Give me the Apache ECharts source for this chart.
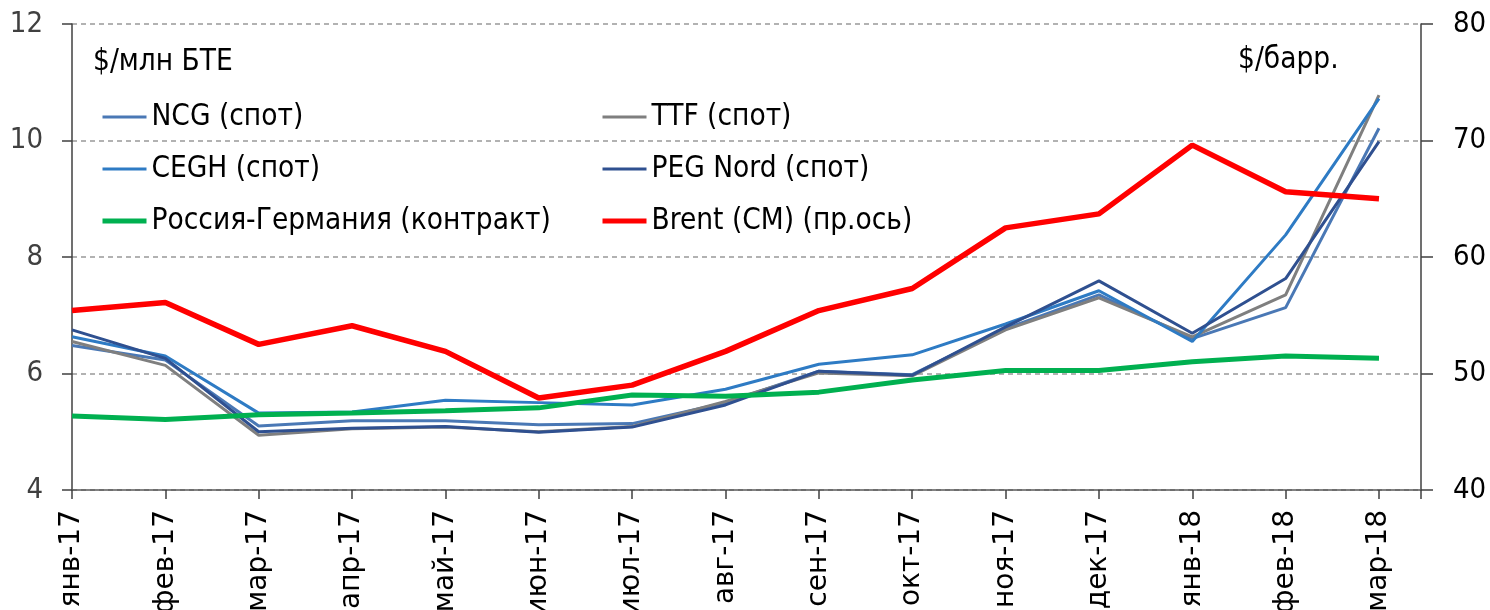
<!DOCTYPE html>
<html>
<head>
<meta charset="utf-8">
<script src="https://cdn.jsdelivr.net/npm/echarts@6/dist/echarts.min.js"></script>
<style>
  html, body { margin: 0; padding: 0; background: #fff; }
  #chart { width: 1490px; height: 610px; }
</style>
</head>
<body>
<div id="chart"></div>
<script>
  var months = ['янв-17', 'фев-17', 'мар-17', 'апр-17', 'май-17', 'июн-17', 'июл-17', 'авг-17',
    'сен-17', 'окт-17', 'ноя-17', 'дек-17', 'янв-18', 'фев-18', 'мар-18'];

  // $/млн БТЕ
  var ncg = [6.48, 6.23, 5.10, 5.19, 5.19, 5.12, 5.14, 5.50, 6.04, 5.98, 6.77, 7.35, 6.60, 7.13, 10.21];
  var ttf = [6.55, 6.14, 4.94, 5.05, 5.08, 5.00, 5.09, 5.52, 6.01, 5.96, 6.75, 7.30, 6.63, 7.35, 10.78];
  var cegh = [6.63, 6.30, 5.32, 5.34, 5.54, 5.50, 5.46, 5.73, 6.16, 6.32, 6.85, 7.42, 6.55, 8.38, 10.72];
  var peg = [6.75, 6.26, 5.00, 5.06, 5.09, 4.99, 5.08, 5.46, 6.04, 5.97, 6.80, 7.59, 6.69, 7.63, 9.98];
  var rusGer = [5.27, 5.21, 5.29, 5.32, 5.36, 5.41, 5.63, 5.61, 5.68, 5.89, 6.05, 6.05, 6.20, 6.30, 6.26];
  // $/барр. (правая ось)
  var brent = [55.4, 56.1, 52.5, 54.1, 51.9, 47.9, 49.0, 51.9, 55.4, 57.3, 62.5, 63.7, 69.6, 65.6, 65.0];

  var leftTicks = [4, 12, 2];   // min, max, interval
  var rightTicks = [40, 80, 10];

  var font = "'DejaVu Sans Condensed', 'DejaVu Sans', sans-serif";

  function pairs(arr) {
    return arr.map(function (v, i) { return [i, v]; });
  }

  function lineSeries(name, data, color, width, yIdx) {
    return {
      name: name,
      type: 'line',
      yAxisIndex: yIdx || 0,
      data: pairs(data),
      symbol: 'none',
      lineStyle: { color: color, width: width },
      itemStyle: { color: color },
      z: yIdx ? 4 : 3
    };
  }

  function legendItem(name, w) {
    return { name: name, lineStyle: { width: w } };
  }

  var chart = echarts.init(document.getElementById('chart'));

  var legendText = { fontFamily: font, fontSize: 29.5, color: '#000', lineHeight: 30 };
  var titleText = { fontFamily: font, fontSize: 29.5, fontWeight: 'normal', color: '#000' };

  var option = {
    animation: false,
    grid: { left: 72, right: 69, top: 24, bottom: 120, containLabel: false, outerBoundsMode: 'none' },
    title: [
      { text: '$/млн БТЕ', left: 88, top: 42, textStyle: titleText },
      { text: '$/барр.', left: 1233, top: 40, textStyle: titleText }
    ],
    legend: [
      {
        orient: 'vertical', left: 100, top: 102, padding: 0, itemWidth: 44, itemHeight: 14, itemGap: 22,
        itemStyle: { opacity: 0 },
        data: [legendItem('NCG (спот)', 3), legendItem('CEGH (спот)', 3), legendItem('Россия-Германия (контракт)', 5)],
        textStyle: legendText
      },
      {
        orient: 'vertical', left: 600, top: 102, padding: 0, itemWidth: 44, itemHeight: 14, itemGap: 22,
        itemStyle: { opacity: 0 },
        data: [legendItem('TTF (спот)', 3), legendItem('PEG Nord (спот)', 3), legendItem('Brent (СМ) (пр.ось)', 5)],
        textStyle: legendText
      }
    ],
    xAxis: {
      type: 'value',
      min: 0,
      max: 14.45,
      interval: 1,
      axisLine: { lineStyle: { color: '#595959', width: 1.5 } },
      axisTick: { length: 9, lineStyle: { color: '#404040', width: 1.5 } },
      splitLine: { show: false },
      axisLabel: {
        rotate: 90,
        margin: 20,
        color: '#000',
        fontFamily: "'DejaVu Sans', sans-serif",
        fontSize: 28,
        showMaxLabel: true,
        formatter: function (v) {
          return Math.abs(v - Math.round(v)) < 1e-6 && months[Math.round(v)] ? months[Math.round(v)] : '';
        }
      }
    },
    yAxis: [
      {
        type: 'value',
        min: leftTicks[0], max: leftTicks[1], interval: leftTicks[2],
        axisLine: { show: true, lineStyle: { color: '#404040', width: 1.5 } },
        axisTick: { show: true, length: 10, lineStyle: { color: '#404040', width: 1.5 } },
        splitLine: { show: true, lineStyle: { color: '#999', type: [5, 4], width: 1.5 } },
        axisLabel: { margin: 29, color: '#404040', fontFamily: font, fontSize: 29 }
      },
      {
        type: 'value',
        min: rightTicks[0], max: rightTicks[1], interval: rightTicks[2],
        position: 'right',
        axisLine: { show: true, lineStyle: { color: '#404040', width: 1.5 } },
        axisTick: { show: true, length: 12, lineStyle: { color: '#404040', width: 1.5 } },
        splitLine: { show: false },
        axisLabel: { margin: 32, color: '#000', fontFamily: font, fontSize: 29 }
      }
    ],
    series: [
      lineSeries('NCG (спот)', ncg, '#4a78b5', 3),
      lineSeries('TTF (спот)', ttf, '#7f7f7f', 3),
      lineSeries('CEGH (спот)', cegh, '#2e7bc4', 3),
      lineSeries('PEG Nord (спот)', peg, '#2f5090', 3),
      lineSeries('Россия-Германия (контракт)', rusGer, '#00b050', 5),
      lineSeries('Brent (СМ) (пр.ось)', brent, '#ff0000', 5.5, 1)
    ]
  };

  chart.setOption(option);
</script>
</body>
</html>
